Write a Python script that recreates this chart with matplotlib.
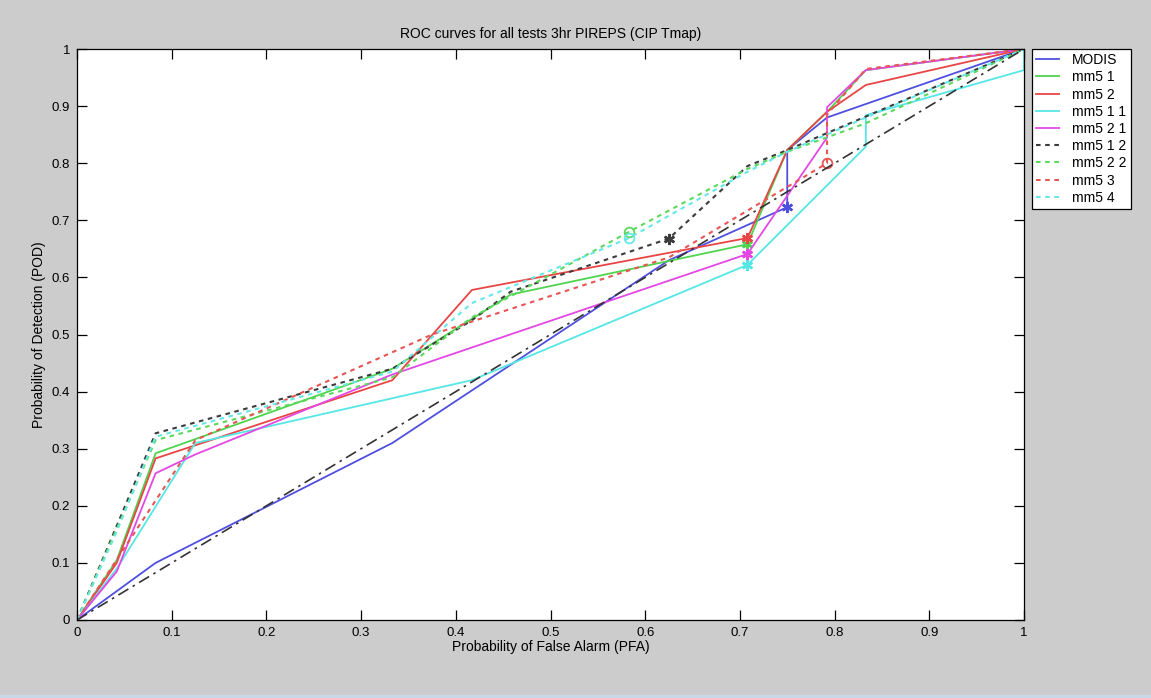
import matplotlib
matplotlib.use("Agg")
import matplotlib.pyplot as plt
from matplotlib.patches import Rectangle

plt.rcParams['font.family'] = ['Liberation Sans', 'DejaVu Sans']

# ---- data ----
modis_x = [0, 0.083, 0.333, 0.625, 0.75, 0.75, 0.792, 1.0]
modis_y = [0, 0.10, 0.31, 0.63, 0.723, 0.823, 0.88, 1.0]

mm5_1_x = [0, 0.042, 0.083, 0.333, 0.458, 0.708, 0.75, 0.792, 0.833, 1.0]
mm5_1_y = [0, 0.105, 0.292, 0.44, 0.57, 0.658, 0.823, 0.89, 0.963, 1.0]

mm5_2_x = [0, 0.042, 0.083, 0.333, 0.417, 0.708, 0.75, 0.792, 0.833, 1.0]
mm5_2_y = [0, 0.10, 0.283, 0.42, 0.578, 0.669, 0.823, 0.89, 0.937, 1.0]

mm5_11_x = [0, 0.042, 0.125, 0.417, 0.708, 0.833, 0.833, 1.0, 1.0]
mm5_11_y = [0, 0.09, 0.31, 0.42, 0.622, 0.829, 0.884, 0.963, 1.0]

mm5_21_x = [0, 0.042, 0.083, 0.125, 0.333, 0.708, 0.792, 0.792, 0.833, 1.0]
mm5_21_y = [0, 0.085, 0.257, 0.29, 0.43, 0.641, 0.845, 0.898, 0.963, 1.0]

mm5_12_x = [0, 0.042, 0.083, 0.333, 0.417, 0.458, 0.625, 0.708, 0.75, 1.0]
mm5_12_y = [0, 0.165, 0.327, 0.44, 0.525, 0.575, 0.668, 0.795, 0.823, 1.0]

mm5_22_x = [0, 0.042, 0.083, 0.333, 0.417, 0.583, 0.708, 0.75, 0.833, 1.0]
mm5_22_y = [0, 0.16, 0.315, 0.425, 0.53, 0.68, 0.79, 0.82, 0.87, 1.0]

mm5_3_x = [0, 0.125, 0.375, 0.625, 0.792, 0.792, 0.833, 1.0]
mm5_3_y = [0, 0.315, 0.50, 0.635, 0.80, 0.885, 0.965, 1.0]

mm5_4_x = [0, 0.042, 0.083, 0.333, 0.417, 0.583, 0.708, 0.75, 0.833, 1.0]
mm5_4_y = [0, 0.155, 0.321, 0.435, 0.555, 0.669, 0.785, 0.82, 0.88, 1.0]

diag_x = [0, 1]
diag_y = [0, 1]

labels = ["MODIS", "mm5 1", "mm5 2", "mm5 1 1", "mm5 2 1",
          "mm5 1 2", "mm5 2 2", "mm5 3", "mm5 4"]
# index of the highlighted (threshold) point on each curve
marker_idx = [4, 5, 5, 4, 5, 6, 5, 4, 5]

ticks = [0, 0.1, 0.2, 0.3, 0.4, 0.5, 0.6, 0.7, 0.8, 0.9, 1]
tick_labels = ["0", "0.1", "0.2", "0.3", "0.4", "0.5", "0.6", "0.7", "0.8", "0.9", "1"]

# ---- styles ----
series = [
    (modis_x, modis_y, '#4f4fe0', '-', (6, 2, 0)),
    (mm5_1_x, mm5_1_y, '#4fd44f', '-', (6, 2, 0)),
    (mm5_2_x, mm5_2_y, '#e84545', '-', (6, 2, 0)),
    (mm5_11_x, mm5_11_y, '#55e6e6', '-', (6, 2, 0)),
    (mm5_21_x, mm5_21_y, '#e448e4', '-', (6, 2, 0)),
    (mm5_12_x, mm5_12_y, '#3c3c3c', (0, (2.2, 2.2)), (6, 2, 0)),
    (mm5_22_x, mm5_22_y, '#5cd85c', (0, (2.2, 2.2)), 'o'),
    (mm5_3_x, mm5_3_y, '#e85555', (0, (2.2, 2.2)), 'o'),
    (mm5_4_x, mm5_4_y, '#66e8e8', (0, (2.2, 2.2)), 'o'),
]

W, H = 1151, 698
fig = plt.figure(figsize=(W / 100, H / 100), dpi=100, facecolor='#cccccc')
ax = fig.add_axes([77 / W, 1 - 620 / H, (1024 - 77) / W, (620 - 49) / H])
ax.set_facecolor('white')

for (x, y, c, ls, mk), lab, mi in zip(series, labels, marker_idx):
    lw = 1.3 if ls == '-' else 1.5
    ax.plot(x, y, color=c, linestyle=ls, linewidth=lw, label=lab)
    if mk == 'o':
        ax.plot([x[mi]], [y[mi]], marker='o', markersize=7, mfc='none',
                mec=c, mew=1.3, linestyle='none')
    else:
        ax.plot([x[mi]], [y[mi]], marker=mk, markersize=8, color=c,
                mew=1.8, linestyle='none')

ax.plot(diag_x, diag_y, color='#333333', linestyle=(0, (7, 3, 1.5, 3)),
        linewidth=1.2, label='_nolegend_')

ax.set_xlim(0, 1)
ax.set_ylim(0, 1)
ax.set_xticks(ticks)
ax.set_xticklabels(tick_labels)
ax.set_yticks(ticks)
ax.set_yticklabels(tick_labels)
ax.tick_params(direction='in', length=7, width=0.9, top=True, right=True,
               labelsize=9.5, colors='black', pad=5)
for s in ax.spines.values():
    s.set_linewidth(0.9)
    s.set_color('black')

ax.set_title("ROC curves for all tests 3hr PIREPS (CIP Tmap)", fontsize=10, pad=8)
ax.set_xlabel("Probability of False Alarm (PFA)", fontsize=10, labelpad=1)
ax.set_ylabel("Probability of Detection (POD)", fontsize=10, labelpad=4)

leg = ax.legend(loc='upper left', bbox_to_anchor=(1.008, 1.0), borderaxespad=0,
                fontsize=10, frameon=True, fancybox=False, edgecolor='black',
                handlelength=1.7, labelspacing=0.23, borderpad=0.3,
                handletextpad=0.9)
leg.get_frame().set_linewidth(0.9)
leg.get_frame().set_facecolor('white')
leg.get_frame().set_alpha(1)

fig.add_artist(Rectangle((0, 0), 1, 3 / H, transform=fig.transFigure,
                         facecolor='#c8d8e8', edgecolor='none'))

fig.savefig("out.png", dpi=100, facecolor=fig.get_facecolor())
